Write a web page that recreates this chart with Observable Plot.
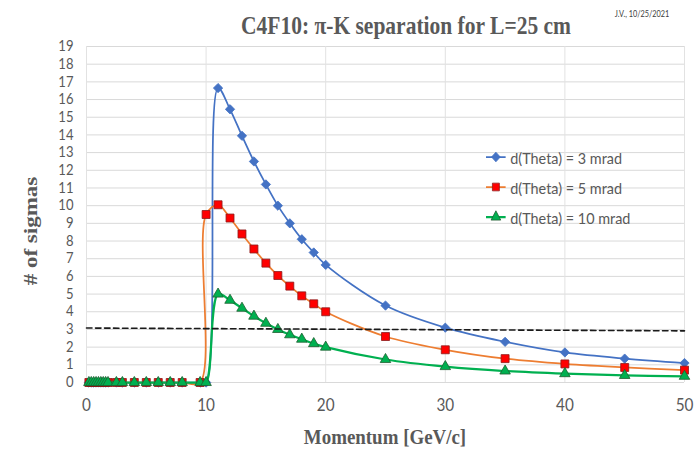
<!DOCTYPE html>
<html>
<head>
<meta charset="utf-8">
<script src="https://cdn.jsdelivr.net/npm/d3@7"></script>
<script src="https://cdn.jsdelivr.net/npm/@observablehq/plot@0.6"></script>
<style>
  body { margin: 0; background: #fff; }
  #wrap { position: relative; width: 694px; height: 451px; overflow: hidden; background: #fff; }
  #chart svg { display: block; }
  .title {
    position: absolute; left: 156px; width: 500px; top: 12px;
    text-align: center; font: bold 25px "Liberation Serif", serif; color: #595959;
    line-height: 28px; transform: scaleX(0.86); white-space: nowrap;
  }
  .stamp {
    position: absolute; left: 592px; width: 100px; top: 9px; text-align: center;
    font: 8.5px Lato, sans-serif; color: #404040; transform: scaleX(0.86); white-space: nowrap;
  }
  .xtitle {
    position: absolute; left: 185px; width: 400px; top: 424px; text-align: center;
    font: bold 22px "Liberation Serif", serif; color: #595959; line-height: 26px;
    transform: scaleX(0.86); white-space: nowrap;
  }
  .ytitle {
    position: absolute; left: -67px; width: 200px; top: 216px; height: 30px; line-height: 30px;
    text-align: center; font: bold 23px "Liberation Serif", serif; color: #595959;
    transform: rotate(-90deg) scaleY(0.86); white-space: nowrap;
  }
  .legend { position: absolute; left: 486px; top: 142px; transform: scaleX(0.9); transform-origin: 0 0; }
  .legend .row { display: flex; align-items: center; height: 30px; font: 16px Lato, sans-serif; color: #595959; white-space: nowrap; }
  .legend svg { margin-right: 5px; }
</style>
</head>
<body>
<div id="wrap">
  <div id="chart"></div>
  <div class="title">C4F10: π-K separation for L=25 cm</div>
  <div class="stamp">J.V., 10/25/2021</div>
  <div class="ytitle"># of sigmas</div>
  <div class="xtitle">Momentum [GeV/c]</div>
  <div class="legend" id="legend"></div>
</div>
<script>
// Momentum points (GeV/c) shared by the three curves
const momentum = [0.2, 0.4, 0.6, 0.8, 1.0, 1.2, 1.4, 1.6, 1.8, 2.5, 3, 4, 5, 6, 7, 8, 9.5,
                  10, 11, 12, 13, 14, 15, 16, 17, 18, 19, 20, 25, 30, 35, 40, 45, 50];

// Number of sigmas of pi-K separation for each angular resolution
const sigmas3mrad  = [0, 0, 0, 0, 0, 0, 0, 0, 0, 0, 0, 0, 0, 0, 0, 0, 0,
                      0, 16.65, 15.45, 13.95, 12.5, 11.2, 10.0, 9.0, 8.1, 7.35, 6.65, 4.35, 3.1, 2.3, 1.7, 1.35, 1.1];
const sigmas5mrad  = [0, 0, 0, 0, 0, 0, 0, 0, 0, 0, 0, 0, 0, 0, 0, 0, 0,
                      9.5, 10.05, 9.3, 8.4, 7.55, 6.75, 6.05, 5.45, 4.9, 4.45, 4.0, 2.6, 1.85, 1.35, 1.05, 0.85, 0.7];
const sigmas10mrad = [0, 0, 0, 0, 0, 0, 0, 0, 0, 0, 0, 0, 0, 0, 0, 0, 0,
                      0, 5.0, 4.65, 4.2, 3.75, 3.35, 3.0, 2.7, 2.45, 2.2, 2.0, 1.3, 0.9, 0.65, 0.5, 0.4, 0.35];

// 3-sigma reference line (hand drawn across the plot)
const thresholdP = [0, 50];
const thresholdS = [3.08, 2.92];

const xTicks = [0, 10, 20, 30, 40, 50];
const yTicks = [0, 1, 2, 3, 4, 5, 6, 7, 8, 9, 10, 11, 12, 13, 14, 15, 16, 17, 18, 19];

const seriesNames = ["d(Theta) = 3 mrad", "d(Theta) = 5 mrad", "d(Theta) = 10 mrad"];

const series = [
  {name: seriesNames[0], values: sigmas3mrad, line: "#4472C4", width: 1.75, symbol: "diamond2", fill: "#4472C4", stroke: "#4472C4", r: 4.2},
  {name: seriesNames[1], values: sigmas5mrad, line: "#ED7D31", width: 1.75, symbol: "square", fill: "#FF0000", stroke: "#8B1A1A", r: 4.5},
  {name: seriesNames[2], values: sigmas10mrad, line: "#00B050", width: 2.25, symbol: "triangle", fill: "#00B050", stroke: "#1E5E30", r: 3.9}
];

const rows = s => momentum.map((p, i) => ({p, s: s.values[i]}));
const threshold = thresholdP.map((p, i) => ({p, s: thresholdS[i]}));

const marks = [
  Plot.ruleY(yTicks, {stroke: "#d9d9d9", strokeWidth: 1}),
  Plot.ruleX(xTicks, {stroke: "#e2e2e2", strokeWidth: 1})
];
for (const s of series) {
  marks.push(Plot.line(rows(s), {x: "p", y: "s", curve: "catmull-rom", stroke: s.line, strokeWidth: s.width}));
  marks.push(Plot.dot(rows(s), {x: "p", y: "s", symbol: () => s.symbol, r: s.r, fill: s.fill, stroke: s.stroke, strokeWidth: 0.8}));
}
marks.push(Plot.line(threshold, {x: "p", y: "s", stroke: "#1a1a1a", strokeWidth: 1.6, strokeDasharray: "5.5,3.5"}));

const chart = Plot.plot({
  width: 694,
  height: 451,
  marginLeft: 86,
  marginRight: 10,
  marginTop: 46,
  marginBottom: 69,
  style: {fontFamily: "Lato, sans-serif", fontSize: "14.5px", color: "#595959", background: "white", overflow: "visible"},
  x: {domain: [0, 50], ticks: xTicks, label: null, tickSize: 0, tickPadding: 16},
  y: {domain: [0, 19], ticks: yTicks, label: null, tickSize: 0, tickPadding: 13},
  symbol: {type: "identity"},
  marks
});
document.getElementById("chart").appendChild(chart);

// Narrow the tick labels horizontally around their anchor; x labels a little larger
chart.querySelectorAll("g[aria-label$='tick label'] text, g[aria-label$='axis'] text").forEach(t => {
  const x = +(t.getAttribute("x") || 0);
  const tr = t.getAttribute("transform") || "";
  t.setAttribute("transform", `${tr} translate(${x},0) scale(0.9,1) translate(${-x},0)`);
});
chart.querySelectorAll("g[aria-label^='x-axis'] text").forEach(t => t.style.fontSize = "17px");

// Legend
const legend = document.getElementById("legend");
const symbolPath = {
  diamond2: d3.symbol(d3.symbolDiamond2, 60)(),
  square: d3.symbol(d3.symbolSquare, 60)(),
  triangle: d3.symbol(d3.symbolTriangle, 50)()
};
for (const s of series) {
  const row = document.createElement("div");
  row.className = "row";
  row.innerHTML = `<svg width="22" height="14" viewBox="-11 -7 22 14">
      <line x1="-11" x2="11" y1="0" y2="0" stroke="${s.line}" stroke-width="${s.width}"/>
      <path d="${symbolPath[s.symbol]}" fill="${s.fill}" stroke="${s.stroke}" stroke-width="0.8"/>
    </svg><span>${s.name}</span>`;
  legend.appendChild(row);
}
</script>
</body>
</html>
